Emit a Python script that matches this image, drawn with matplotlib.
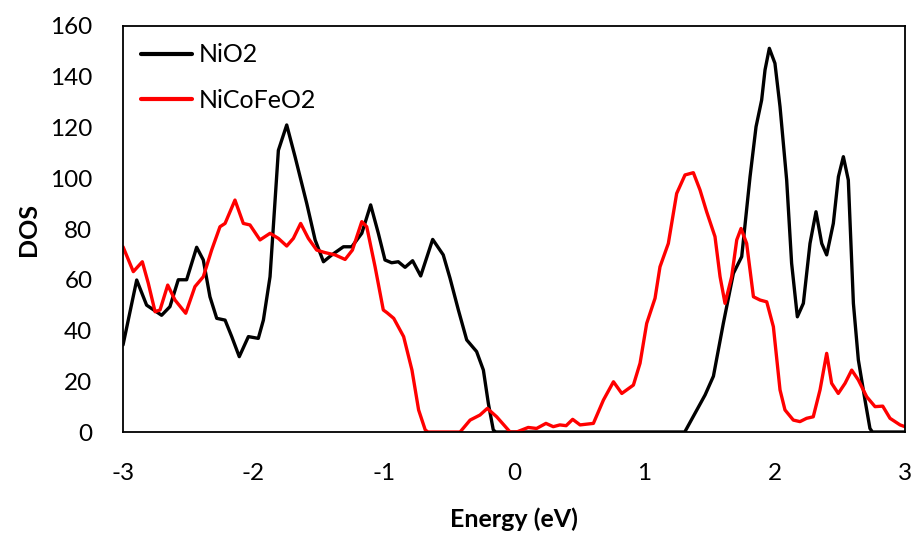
import matplotlib
matplotlib.use("Agg")
import matplotlib.pyplot as plt

# density of states, NiO2
e_nio2 = [-3.0, -2.895, -2.819, -2.704, -2.64, -2.576, -2.512, -2.435, -2.384, -2.333,
          -2.281, -2.217, -2.166, -2.108, -2.038, -1.962, -1.923, -1.872, -1.808, -1.744,
          -1.680, -1.590, -1.526, -1.462, -1.398, -1.309, -1.245, -1.168, -1.100, -1.041,
          -0.990, -0.939, -0.888, -0.836, -0.778, -0.716, -0.624, -0.543, -0.491, -0.427,
          -0.363, -0.287, -0.235, -0.197, -0.159, -0.14, 1.31, 1.389, 1.466, 1.530,
          1.606, 1.683, 1.747, 1.811, 1.857, 1.900, 1.926, 1.959, 2.002, 2.041,
          2.092, 2.130, 2.174, 2.220, 2.271, 2.317, 2.361, 2.399, 2.450, 2.489,
          2.527, 2.565, 2.604, 2.642, 2.693, 2.731, 2.75, 3.0]
dos_nio2 = [34.3, 59.9, 50.0, 46.0, 49.4, 60.0, 60.0, 72.8, 67.8, 53.3,
            44.8, 44.1, 37.6, 29.7, 37.6, 36.9, 44.1, 61.2, 111.0, 121.0,
            108.5, 90.0, 75.7, 67.1, 69.8, 73.0, 73.0, 78.3, 89.5, 78.3,
            67.8, 66.7, 67.1, 64.9, 67.5, 61.5, 75.9, 69.8, 60.6, 48.1,
            36.3, 31.7, 24.4, 11.3, 0.8, 0.0, 0.0, 7.4, 14.6, 22.0,
            42.8, 62.5, 69.1, 100.6, 120.3, 130.8, 142.7, 151.2, 145.3, 128.2,
            99.3, 66.5, 45.4, 50.7, 74.3, 86.8, 74.3, 69.8, 82.2, 100.6,
            108.5, 99.3, 50.7, 28.4, 12.6, 1.4, 0.0, 0.0]

# density of states, NiCoFeO2
e_ncfo = [-3.0, -2.921, -2.852, -2.806, -2.754, -2.716, -2.657, -2.601, -2.519, -2.448,
          -2.384, -2.320, -2.256, -2.217, -2.141, -2.077, -2.026, -1.949, -1.872, -1.808,
          -1.744, -1.693, -1.637, -1.578, -1.514, -1.450, -1.373, -1.296, -1.240, -1.168,
          -1.130, -1.066, -1.003, -0.974, -0.923, -0.847, -0.783, -0.732, -0.681, -0.66,
          -0.414, -0.337, -0.261, -0.205, -0.133, -0.030, 0.02, 0.109, 0.173, 0.245,
          0.301, 0.352, 0.40, 0.45, 0.507, 0.609, 0.686, 0.763, 0.827, 0.916,
          0.967, 1.018, 1.082, 1.120, 1.184, 1.248, 1.312, 1.376, 1.427, 1.478,
          1.542, 1.581, 1.619, 1.670, 1.709, 1.742, 1.785, 1.837, 1.888, 1.939,
          1.990, 2.041, 2.079, 2.143, 2.194, 2.245, 2.296, 2.348, 2.399, 2.437,
          2.488, 2.540, 2.591, 2.642, 2.706, 2.770, 2.829, 2.885, 2.962, 3.0]
dos_ncfo = [73.0, 63.2, 67.1, 58.6, 47.4, 48.1, 57.9, 52.0, 46.8, 57.3,
            61.2, 71.7, 80.9, 82.2, 91.4, 82.2, 81.6, 75.7, 78.3, 76.3,
            73.3, 76.3, 82.2, 76.3, 71.7, 70.7, 69.8, 68.0, 71.7, 82.9,
            80.9, 65.1, 48.1, 47.0, 44.8, 37.6, 24.4, 8.7, 0.8, 0.0,
            0.0, 4.7, 6.7, 9.3, 6.0, 0.0, 0.0, 1.8, 1.4, 3.4,
            2.1, 2.8, 2.5, 5.0, 2.8, 3.4, 12.6, 19.8, 15.2, 18.5,
            27.1, 42.8, 52.7, 65.1, 74.3, 94.0, 101.3, 102.2, 95.4, 86.8,
            77.0, 61.2, 50.7, 61.2, 75.7, 80.2, 74.3, 53.3, 52.0, 51.3,
            41.5, 16.6, 8.7, 4.7, 4.1, 5.4, 6.0, 16.6, 31.0, 19.2,
            15.2, 19.2, 24.4, 20.5, 13.9, 10.0, 10.2, 5.4, 2.8, 2.1]

plt.rcParams['font.family'] = ['Lato', 'DejaVu Sans']
plt.rcParams['axes.unicode_minus'] = False

fig = plt.figure(figsize=(9.16, 5.36), dpi=100)
ax = fig.add_axes([0.1343, 0.194, 0.8537, 0.7575])

ax.plot(e_nio2, dos_nio2, color='black', lw=2.4, label='NiO2',
        solid_joinstyle='round', solid_capstyle='round')
ax.plot(e_ncfo, dos_ncfo, color='#ff0000', lw=2.4, label='NiCoFeO2',
        solid_joinstyle='round', solid_capstyle='round')

ax.set_xlim(-3, 3)
ax.set_ylim(0, 160)
ax.set_xticks(range(-3, 4))
ax.set_yticks(range(0, 161, 20))
ax.tick_params(length=0, labelsize=17.5, pad=22)
for s in ax.spines.values():
    s.set_linewidth(1.3)

ax.set_xlabel('Energy (eV)', fontsize=18, fontweight='bold', labelpad=17)
ax.set_ylabel('DOS', fontsize=18, fontweight='bold', labelpad=7)

leg = ax.legend(loc='upper left', frameon=False, fontsize=18,
                handlelength=2.05, handletextpad=0.28, labelspacing=0.9,
                borderaxespad=0.3)
for h in leg.get_lines():
    h.set_linewidth(3)

fig.savefig('out.png', dpi=100)
